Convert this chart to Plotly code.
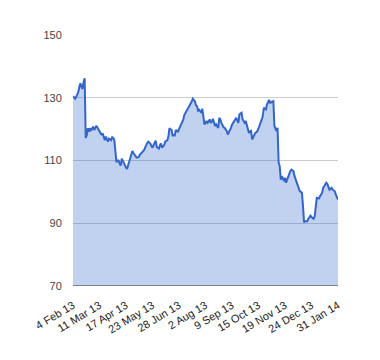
import plotly.graph_objects as go

# Closing values, one per trading day (4 Feb 2013 .. 31 Jan 2014)
values = [
    130.5, 130.0, 129.7, 130.3, 131.2, 131.8, 133.6, 134.6, 133.5, 132.8,
    135.0, 136.2, 117.2, 118.1, 120.3, 119.2, 120.3, 119.5, 120.2, 120.8,
    119.7, 120.4, 121.1, 120.5, 120.0, 119.2, 118.6, 118.1, 118.7, 117.5,
    116.5, 117.6, 117.0, 116.0, 117.0, 116.8, 116.5, 117.4, 117.2, 116.5,
    111.1, 109.5, 110.0, 110.0, 109.0, 108.4, 110.6, 109.8, 108.9, 108.4,
    107.8, 107.3, 108.5, 109.5, 111.1, 112.0, 113.0, 112.4, 112.0, 111.6,
    110.9, 111.0, 111.1, 111.8, 112.2, 112.7, 113.0, 113.3, 114.1, 115.0,
    115.6, 116.0, 115.8, 115.4, 114.6, 114.1, 114.9, 115.5, 116.3, 114.3,
    114.0, 113.8, 114.8, 115.4, 114.1, 114.5, 114.9, 116.0, 116.3, 116.5,
    117.6, 120.3, 120.0, 119.7, 117.8, 118.1, 118.0, 119.7, 119.4, 119.2,
    120.0, 120.8, 121.9, 122.5, 123.0, 124.5, 125.1, 125.7, 126.2, 126.8,
    127.5, 128.4, 128.8, 129.7, 129.3, 128.9, 127.6, 127.3, 125.9, 126.2,
    125.7, 125.2, 126.5, 123.1, 121.5, 122.0, 122.6, 122.0, 122.5, 123.1,
    122.0, 122.4, 123.3, 122.0, 121.0, 121.5, 121.0, 120.4, 123.6, 123.1,
    122.0, 121.0, 120.6, 120.4, 119.9, 119.4, 118.3, 119.0, 119.4, 120.4,
    121.4, 122.0, 122.6, 123.0, 123.6, 122.8, 122.0, 124.7, 125.0, 125.2,
    123.1, 122.5, 122.0, 122.6, 121.0, 119.9, 118.8, 119.2, 119.4, 116.7,
    117.5, 118.3, 118.8, 119.0, 119.4, 120.2, 121.0, 122.0, 123.0, 124.1,
    126.8, 126.5, 126.3, 127.9, 128.5, 129.3, 128.4, 128.6, 128.9, 128.9,
    121.0, 120.0, 119.4, 120.4, 109.3, 108.2, 103.9, 105.0, 104.2, 103.4,
    104.5, 102.9, 103.9, 105.0, 105.8, 106.6, 107.1, 106.8, 106.6, 105.0,
    103.9, 102.9, 102.0, 101.3, 100.2, 100.0, 99.7, 95.4, 90.3, 90.6,
    90.6, 90.6, 91.4, 91.8, 92.4, 92.0, 91.8, 91.4, 92.2, 96.0,
    98.1, 98.0, 97.9, 98.6, 99.2, 99.7, 101.3, 101.8, 102.3, 102.9,
    102.5, 101.8, 100.7, 101.0, 101.3, 100.7, 100.5, 100.2, 99.1, 98.5,
    97.5,
]

tick_labels = ["4 Feb 13", "11 Mar 13", "17 Apr 13", "23 May 13", "28 Jun 13",
               "2 Aug 13", "9 Sep 13", "15 Oct 13", "19 Nov 13", "24 Dec 13",
               "31 Jan 14"]
label_every = 25  # a label on every 25th trading day
y_ticks = [70, 90, 110, 130, 150]

x = list(range(len(values)))
tickvals = [i * label_every for i in range(len(tick_labels))]

fig = go.Figure()
fig.add_trace(go.Scatter(
    x=x, y=values, mode="lines", fill="tozeroy",
    line=dict(color="#3366cc", width=2),
    fillcolor="rgba(51,102,204,0.3)",
    hoverinfo="skip",
))

fig.add_shape(type="line", xref="paper", yref="y", x0=0, x1=1, y0=70, y1=70,
              line=dict(color="#333333", width=1))

fig.update_layout(
    width=380, height=360,
    margin=dict(l=65, r=50, t=27, b=82, autoexpand=False),
    paper_bgcolor="white", plot_bgcolor="white",
    showlegend=False,
    font=dict(family="Arial, Liberation Sans, sans-serif", size=11, color="#222222"),
    xaxis=dict(
        range=[0, len(values) - 1],
        tickvals=tickvals, ticktext=tick_labels,
        tickangle=-31, showgrid=False, zeroline=False, showline=False,
        ticks="outside", ticklen=8, tickcolor="rgba(0,0,0,0)",
        tickfont=dict(size=11, color="#222222"),
    ),
    yaxis=dict(
        range=[70, 150], tickvals=y_ticks,
        showgrid=True, gridcolor="#cccccc", gridwidth=1,
        zeroline=False, showline=False,
        ticks="outside", ticklen=8, tickcolor="rgba(0,0,0,0)",
        tickfont=dict(size=11, color="#444444"),
    ),
)

fig.write_html("out.html")
